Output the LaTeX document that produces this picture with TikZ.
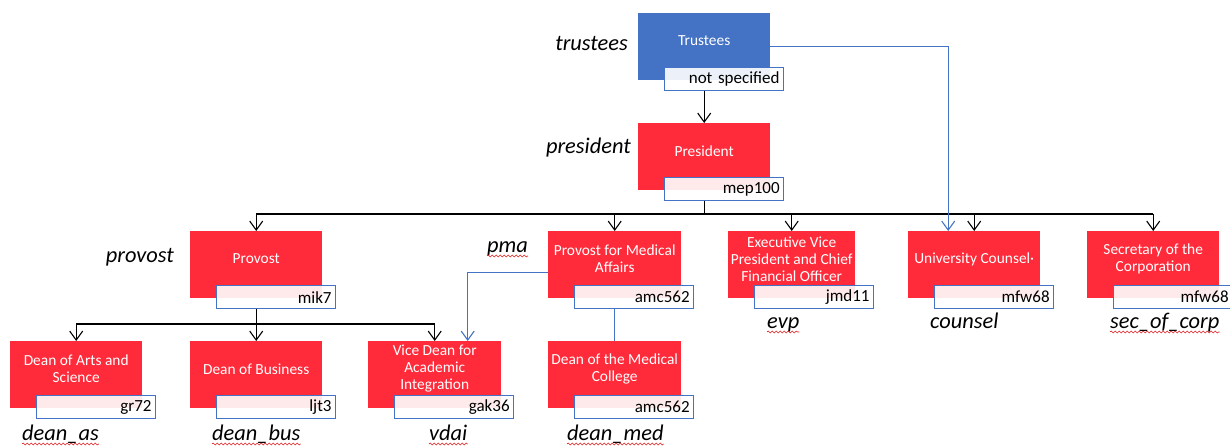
\documentclass[tikz,border=0pt]{standalone}
\usepackage{fontspec}
\setmainfont{Carlito}
\usetikzlibrary{arrows.meta,decorations.pathmorphing}
\definecolor{boxred}{RGB}{255,42,58}
\definecolor{boxblue}{RGB}{68,114,196}
\definecolor{lineblue}{RGB}{68,114,196}
\definecolor{wavyred}{RGB}{225,30,30}
\newcommand{\OrgBox}[7]{%
  \node[rbox, fill=#5, minimum width=#4pt] (#1) at (#2,#3) {};
  \node[btext] (#1-t) at ([yshift=-28pt]#1.north) {#6};
  \node[idbox] (#1-id) at ([xshift=26pt,yshift=-54pt]#1.north west) {#7};
}
\begin{document}
\begin{tikzpicture}[x=1pt,y=-1pt,
  rbox/.style={minimum height=67pt, inner sep=0pt, anchor=north west},
  btext/.style={text=white, font=\fontsize{15.4}{17}\selectfont, align=center, inner sep=0pt},
  idbox/.style={draw=lineblue, line width=1.2pt, fill=white, fill opacity=0.9, text opacity=1,
    minimum height=23pt, text width=111pt, align=right, inner xsep=4pt, inner ysep=0pt,
    font=\fontsize{17}{19}\selectfont, anchor=north west},
  role/.style={font=\fontsize{22.4}{24}\selectfont\itshape, inner sep=0pt},
  tip/.style={-{Straight Barb[length=9pt,width=13pt,line width=1.1pt]}},
  conn/.style={line width=1.3pt, tip},
  bus/.style={line width=1.3pt},
  bconn/.style={draw=lineblue, line width=1.2pt},
  wavy/.style={draw=wavyred, line width=0.6pt, decorate, decoration={snake, segment length=4pt, amplitude=1pt}}
]
\useasboundingbox (0,0) rectangle (1230,445);
\clip (0,0) rectangle (1230,445);

\OrgBox{tr}{638}{13}{132}{boxblue}{Trustees}{not specified}
\OrgBox{pres}{638}{123}{132}{boxred}{President}{mep100}
\OrgBox{prov}{190}{231}{132}{boxred}{Provost}{mik7}
\OrgBox{pma}{548}{231}{133}{boxred}{Provost for Medical\\Affairs}{amc562}
\OrgBox{evp}{728}{231}{127}{boxred}{Executive Vice\\President and Chief\\Financial Officer}{jmd11}
\OrgBox{couns}{908}{231}{132}{boxred}{University Counsel·}{mfw68}
\OrgBox{sec}{1087}{231}{132}{boxred}{Secretary of the\\Corporation}{mfw68}
\OrgBox{das}{10}{341}{132}{boxred}{Dean of Arts and\\Science}{gr72}
\OrgBox{dbus}{190}{341}{132}{boxred}{Dean of Business}{ljt3}
\OrgBox{vdai}{368}{341}{133}{boxred}{Vice Dean for\\Academic\\Integration}{gak36}
\OrgBox{dmed}{548}{341}{133}{boxred}{Dean of the Medical\\College}{amc562}

% role labels
\node[role, anchor=base east] (l-tr) at (628,50) {trustees};
\node[role, anchor=base east] (l-pres) at (631,153) {president};
\node[role, anchor=base east] (l-prov) at (174,262) {provost};
\node[role, anchor=base west] (l-pma) at (487,252) {pma};
\node[role, anchor=base west] (l-evp) at (767,328) {evp};
\node[role, anchor=base west] (l-couns) at (930,328) {counsel};
\node[role, anchor=base west] (l-sec) at (1110,328) {sec\_of\_corp};
\node[role, anchor=base west] (l-das) at (22,440) {dean\_as};
\node[role, anchor=base west] (l-dbus) at (212,440) {dean\_bus};
\node[role, anchor=base west] (l-vdai) at (429,440) {vdai};
\node[role, anchor=base west] (l-dmed) at (567,440) {dean\_med};

\foreach \n in {l-pma,l-evp,l-sec,l-das,l-dbus,l-vdai,l-dmed}{
  \draw[wavy] ([yshift=-4pt]\n.base west) -- ([yshift=-4pt]\n.base east);
}

% black connectors
\coordinate (bus1y) at (0,214);
\coordinate (bus2y) at (0,324);
\draw[conn] (tr.south |- tr-id.south) -- (pres.north);
\draw[bus] (pres.south |- pres-id.south) -- (pres.south |- bus1y);
\draw[bus] (prov.north |- bus1y) -- (sec.north |- bus1y);
\foreach \n in {prov,pma,evp,couns,sec}{
  \draw[conn] (\n.north |- bus1y) -- (\n.north);
}
\draw[bus] (prov.south |- prov-id.south) -- (prov.south |- bus2y);
\draw[bus] (das.north |- bus2y) -- (vdai.north |- bus2y);
\foreach \n in {das,dbus,vdai}{
  \draw[conn] (\n.north |- bus2y) -- (\n.north);
}

% blue connectors
\draw[bconn, tip] (tr.east) -| ([xshift=-26pt]couns.north);
\draw[bconn, tip] ([yshift=-8pt]pma.west) -| ([xshift=33pt]vdai.north);
\draw[bconn] (pma.south |- pma-id.south) -- (dmed.north);
\end{tikzpicture}
\end{document}
